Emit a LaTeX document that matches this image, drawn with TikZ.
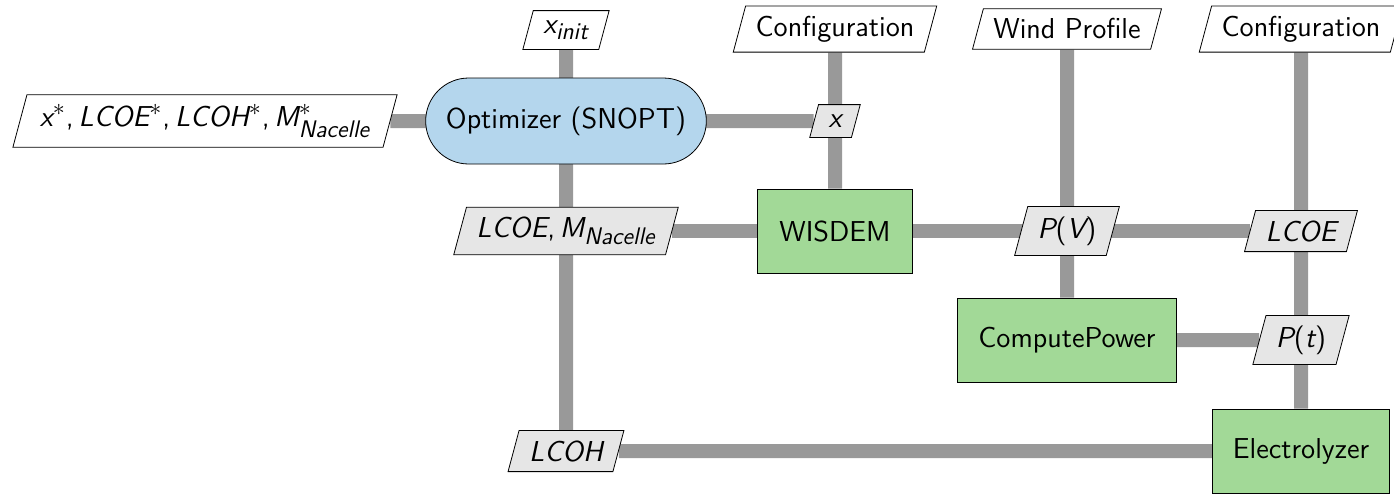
\documentclass[tikz,border=0pt]{standalone}
\usepackage{amsmath,amssymb}
\renewcommand{\familydefault}{\sfdefault}
\usepackage[italic]{mathastext}
\usetikzlibrary{shapes.geometric,shapes.misc}
\pgfdeclarelayer{background}
\pgfsetlayers{background,main}

\definecolor{optblue}{RGB}{180,214,237}
\definecolor{funcgreen}{RGB}{162,217,151}
\definecolor{datagray}{RGB}{230,230,230}
\definecolor{linegray}{RGB}{153,153,153}

\tikzset{
  optimizer/.style={draw,rounded rectangle,fill=optblue,minimum width=147pt,minimum height=43pt},
  function/.style={draw,rectangle,fill=funcgreen,minimum height=42pt},
  datainter/.style={draw,trapezium,trapezium left angle=75,trapezium right angle=105,fill=datagray,inner sep=5pt},
  dataio/.style={draw,trapezium,trapezium left angle=75,trapezium right angle=105,fill=white,inner sep=5pt},
  dataline/.style={draw=linegray,line width=7pt}
}

\begin{document}
\begin{tikzpicture}[x=0.5pt,y=0.5pt,yscale=-1,xscale=1,font=\Large]
    \useasboundingbox (0,0) rectangle (1394,494);

    %Shape: Optimizer
    \node [optimizer] (opt) at (566,121) {Optimizer (SNOPT)};
    %Shape: Functions
    \node [function,minimum width=77.5pt] (wisdem) at (835,231) {WISDEM};
    \node [function,minimum width=109.5pt] (power) at (1067,340) {ComputePower};
    \node [function,minimum width=88.5pt] (elec) at (1301,451) {Electrolyzer};

    % Text Node: inputs and outputs
    \node [dataio] (xinit) at (566,30) {$x_{init}$};
    \node [dataio,inner xsep=6.5pt] (outopt) at (205,121) {$x^{*}, LCOE^{*}, LCOH^{*}, M^{*}_{Nacelle}$};
    \node [dataio] (conf1) at (835,29) {Configuration};
    \node [dataio] (wind) at (1067,29) {Wind Profile};
    \node [dataio] (conf2) at (1301,29) {Configuration};

    % Text Node: coupling data
    \node [datainter] (xvar) at (835,121) {$x$};
    \node [datainter] (lcoem) at (566,231) {$LCOE, M_{Nacelle}$};
    \node [datainter] (pv) at (1067,231) {$P(V)$};
    \node [datainter] (lcoe) at (1301,231) {$LCOE$};
    \node [datainter] (pt) at (1301,340) {$P(t)$};
    \node [datainter] (lcoh) at (566,451) {$LCOH$};

    %Straight Lines
    \begin{pgfonlayer}{background}
    \draw [dataline] (xinit) -- (lcoh);
    \draw [dataline] (outopt) -- (xvar);
    \draw [dataline] (conf1) -- (wisdem);
    \draw [dataline] (lcoem) -- (lcoe);
    \draw [dataline] (wind) -- (power);
    \draw [dataline] (conf2) -- (elec);
    \draw [dataline] (power) -- (pt);
    \draw [dataline] (lcoh) -- (elec);
    \end{pgfonlayer}
\end{tikzpicture}
\end{document}
